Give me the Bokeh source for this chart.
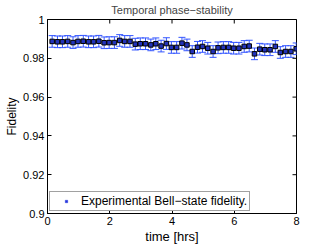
import math
from bokeh.plotting import figure
from bokeh.models import (ColumnDataSource, Whisker, TeeHead, FixedTicker,
                          CustomJSTickFormatter, Range1d)
from bokeh.embed import file_html
from bokeh.resources import INLINE

# ---- data ----
hours = [0.15, 0.32, 0.48, 0.65, 0.82, 0.98, 1.15, 1.32, 1.48, 1.65, 1.82, 1.98,
         2.15, 2.32, 2.48, 2.65, 2.82, 2.98, 3.15, 3.32, 3.48, 3.65, 3.82, 3.98,
         4.15, 4.32, 4.48, 4.65, 4.82, 4.98, 5.15, 5.32, 5.48, 5.65, 5.82, 5.98,
         6.15, 6.32, 6.48, 6.65, 6.82, 6.98, 7.15, 7.32, 7.48, 7.65, 7.82, 7.99]
fidelity = [0.9887, 0.9885, 0.9885, 0.9887, 0.9881, 0.9887, 0.9888, 0.9885, 0.9885, 0.9888, 0.9880, 0.9881,
            0.9881, 0.9892, 0.9887, 0.9887, 0.9873, 0.9875, 0.9875, 0.9869, 0.9875, 0.9863, 0.9876, 0.9856,
            0.9856, 0.9878, 0.9869, 0.9835, 0.9857, 0.9861, 0.9852, 0.9835, 0.9854, 0.9856, 0.9856, 0.9852,
            0.9852, 0.9861, 0.9863, 0.9823, 0.9847, 0.9844, 0.9844, 0.9861, 0.9830, 0.9835, 0.9835, 0.9849]
errors = [0.003, 0.003, 0.003, 0.003, 0.003, 0.003, 0.003, 0.003, 0.003, 0.003, 0.003, 0.003,
          0.003, 0.003, 0.003, 0.003, 0.003, 0.003, 0.003, 0.003, 0.003, 0.003, 0.003, 0.003,
          0.003, 0.003, 0.003, 0.003, 0.003, 0.003, 0.003, 0.003, 0.003, 0.003, 0.003, 0.003,
          0.003, 0.003, 0.003, 0.003, 0.003, 0.003, 0.003, 0.003, 0.003, 0.003, 0.003, 0.003]
x_limits = [0, 8]
y_limits = [0.9, 1.0]
x_ticks = [0, 2, 4, 6, 8]
y_ticks = [0.9, 0.92, 0.94, 0.96, 0.98, 1.0]
title_text = "Temporal phase\u2212stability"
legend_text = "Experimental Bell\u2212state fidelity."
x_label = "time [hrs]"
y_label = "Fidelity"

FONT = "Liberation Sans"
ERR_BLUE = "#3355ff"
LEG_BLUE = "#2233dd"

src = ColumnDataSource(dict(
    x=hours, y=fidelity,
    upper=[f + e for f, e in zip(fidelity, errors)],
    lower=[f - e for f, e in zip(fidelity, errors)],
))

p = figure(width=327, height=246, output_backend="svg", toolbar_location=None,
           x_range=Range1d(*x_limits), y_range=Range1d(*y_limits),
           min_border_left=47, min_border_right=31, min_border_top=19, min_border_bottom=33,
           title=title_text)
p.title.text_font = FONT
p.title.text_font_size = "11px"
p.title.text_font_style = "normal"
p.title.align = "center"
p.title.vertical_align = "top"
p.title.standoff = 4

p.grid.visible = False
p.outline_line_color = "black"
p.outline_line_width = 1
p.background_fill_color = "white"
p.border_fill_color = "white"

fmt = CustomJSTickFormatter(code="return String(Math.round(tick*100)/100);")

for ax in (p.xaxis[0], p.yaxis[0]):
    ax.major_tick_in = 4
    ax.major_tick_out = 0
    ax.minor_tick_line_color = None
    ax.axis_line_color = "black"
    ax.major_tick_line_color = "black"
    ax.major_label_text_font = FONT
    ax.major_label_text_font_size = "11px"
    ax.major_label_text_color = "black"
    ax.axis_label_text_font = FONT
    ax.axis_label_text_font_style = "normal"
    ax.axis_label_text_color = "black"
    ax.major_label_standoff = 3
    ax.axis_label_standoff = 1
    ax.formatter = fmt

p.xaxis.ticker = FixedTicker(ticks=x_ticks)
p.yaxis.ticker = FixedTicker(ticks=y_ticks)
p.xaxis.axis_label = x_label
p.yaxis.axis_label = y_label
p.xaxis.axis_label_text_font_size = "13px"
p.yaxis.axis_label_text_font_size = "12px"

# inward ticks on the top and right edges of the box (clipped to the frame)
p.scatter(x=x_ticks, y=[y_limits[1]] * len(x_ticks), marker="dash", angle=math.pi / 2,
          size=8, line_color="black", line_width=1)
p.scatter(x=[x_limits[1]] * len(y_ticks), y=y_ticks, marker="dash",
          size=8, line_color="black", line_width=1)

wh = Whisker(base="x", upper="upper", lower="lower", source=src, dimension="height",
             line_color=ERR_BLUE, line_width=1, level="underlay",
             upper_head=TeeHead(size=7, line_color=ERR_BLUE, line_width=1),
             lower_head=TeeHead(size=7, line_color=ERR_BLUE, line_width=1))
p.add_layout(wh)

p.scatter("x", "y", source=src, marker="square", size=4.5, fill_color="#2233bb",
          line_color="black", line_width=1)

# legend proxy (zero-size marks, only its legend swatch is visible)
p.scatter(x=hours[:1], y=fidelity[:1], marker="square", size=0, fill_color=LEG_BLUE,
          fill_alpha=1, line_color=LEG_BLUE, line_width=0.5, legend_label=legend_text)

lg = p.legend[0]
lg.location = "bottom_left"
lg.margin = 2
lg.padding = 2
lg.spacing = 0
lg.glyph_width = 28
lg.glyph_height = 6
lg.label_height = 12
lg.label_standoff = 1
lg.label_text_font = FONT
lg.label_text_font_size = "12px"
lg.label_text_color = "black"
lg.border_line_color = "#444444"
lg.border_line_width = 1
lg.background_fill_alpha = 1

open("out.html", "w").write(file_html(p, INLINE))
